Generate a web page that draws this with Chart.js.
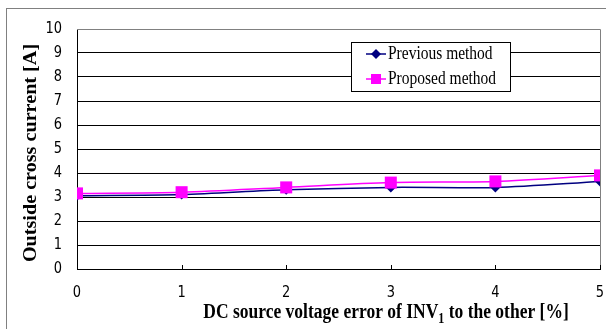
<!DOCTYPE html>
<html>
<head>
<meta charset="utf-8">
<script src="https://cdn.jsdelivr.net/npm/chart.js@4.4.1/dist/chart.umd.min.js"></script>
<style>
  html, body { margin: 0; padding: 0; background: #fff; overflow: hidden; }
  #wrap { position: relative; width: 606px; height: 329px; overflow: hidden; }
  #frame { position: absolute; left: 6px; top: 8px; width: 640px; height: 360px; border: 1px solid #808080; }
  #c { position: absolute; left: 0; top: 0; }
</style>
</head>
<body>
<div id="wrap">
  <div id="frame"></div>
  <canvas id="c" width="606" height="329"></canvas>
</div>
<script>
// dane
const errorPct = [0, 1, 2, 3, 4, 5];
const previousMethod = [3.05, 3.1, 3.3, 3.4, 3.4, 3.65];
const proposedMethod = [3.15, 3.2, 3.4, 3.6, 3.65, 3.9];
const yTicks = [0, 1, 2, 3, 4, 5, 6, 7, 8, 9, 10];

const NAVY = '#000080';
const PINK = '#FF00FF';
const SERIF = '"Liberation Serif", "Times New Roman", serif';
const SANS = '"DejaVu Sans", Verdana, sans-serif';
const STRETCH = 1.15; // oryginal jest lekko rozciagniety w pionie

function pts(vals) { return errorPct.map((x, i) => ({ x, y: vals[i] })); }

function stretchedText(ctx, text, x, y, font, align, baseline) {
  ctx.save();
  ctx.translate(x, y);
  ctx.scale(1, STRETCH);
  ctx.font = font;
  ctx.textAlign = align; ctx.textBaseline = baseline;
  ctx.fillText(text, 0, 0);
  ctx.restore();
}

// tytuly osi, legenda, etykiety osi, ramka obszaru wykresu
const decor = {
  id: 'decor',
  afterDraw(chart) {
    const ctx = chart.ctx, a = chart.chartArea;
    const xs = chart.scales.x, ys = chart.scales.y;
    ctx.save();
    // ramka gorna/prawa (szara)
    ctx.strokeStyle = '#808080'; ctx.lineWidth = 1;
    ctx.beginPath();
    ctx.moveTo(a.left, Math.round(a.top) + 0.5);
    ctx.lineTo(Math.round(a.right) + 0.5, Math.round(a.top) + 0.5);
    ctx.lineTo(Math.round(a.right) + 0.5, a.bottom);
    ctx.stroke();

    // male znaczniki na osi x (do srodka)
    ctx.strokeStyle = '#000';
    errorPct.forEach(v => {
      const px = Math.round(xs.getPixelForValue(v)) + 0.5;
      ctx.beginPath(); ctx.moveTo(px, a.bottom); ctx.lineTo(px, a.bottom - 4); ctx.stroke();
    });

    // etykiety osi
    ctx.fillStyle = '#000';
    yTicks.forEach(v => stretchedText(ctx, String(v), 62, ys.getPixelForValue(v), '13px ' + SANS, 'right', 'middle'));
    errorPct.forEach(v => stretchedText(ctx, String(v), xs.getPixelForValue(v), 293, '13px ' + SANS, 'center', 'middle'));

    // tytul osi y
    ctx.font = 'bold 18px ' + SERIF;
    ctx.textAlign = 'center'; ctx.textBaseline = 'middle';
    ctx.save();
    ctx.translate(31, 153);
    ctx.rotate(-Math.PI / 2);
    ctx.scale(1.12, 1);
    ctx.fillText('Outside cross current [A]', 0, 0);
    ctx.restore();

    // tytul osi x z indeksem dolnym
    const p1 = 'DC source voltage error of INV', sub = '1', p2 = ' to the other [%]';
    ctx.textAlign = 'left'; ctx.textBaseline = 'alphabetic';
    ctx.font = 'bold 17.5px ' + SERIF;
    const w1 = ctx.measureText(p1).width, w3 = ctx.measureText(p2).width;
    ctx.font = 'bold 12px ' + SERIF;
    const w2 = ctx.measureText(sub).width;
    ctx.save();
    ctx.translate(386 - (w1 + w2 + w3) / 2, 318);
    ctx.scale(1, STRETCH);
    ctx.font = 'bold 17.5px ' + SERIF;
    ctx.fillText(p1, 0, 0);
    ctx.font = 'bold 12px ' + SERIF;
    ctx.fillText(sub, w1, 4);
    ctx.font = 'bold 17.5px ' + SERIF;
    ctx.fillText(p2, w1 + w2, 0);
    ctx.restore();

    // legenda
    ctx.fillStyle = '#fff';
    ctx.fillRect(351, 42, 159, 49);
    ctx.strokeStyle = '#000'; ctx.lineWidth = 1;
    ctx.strokeRect(351.5, 42.5, 159, 49);
    const rows = [
      { label: 'Previous method', color: NAVY, y: 54, shape: 'diamond' },
      { label: 'Proposed method', color: PINK, y: 79, shape: 'square' }
    ];
    rows.forEach(r => {
      ctx.strokeStyle = r.color; ctx.lineWidth = 1.5;
      ctx.beginPath(); ctx.moveTo(366, r.y); ctx.lineTo(386, r.y); ctx.stroke();
      ctx.fillStyle = r.color;
      ctx.beginPath();
      if (r.shape === 'diamond') {
        ctx.moveTo(376, r.y - 5); ctx.lineTo(381, r.y); ctx.lineTo(376, r.y + 5); ctx.lineTo(371, r.y);
        ctx.closePath(); ctx.fill();
      } else {
        ctx.fillRect(371, r.y - 5, 10, 10);
      }
      ctx.fillStyle = '#000';
      stretchedText(ctx, r.label, 388, r.y, '15.5px ' + SERIF, 'left', 'middle');
    });
    ctx.restore();
  }
};

new Chart(document.getElementById('c'), {
  type: 'line',
  data: {
    datasets: [
      {
        label: 'Previous method', data: pts(previousMethod),
        borderColor: NAVY, backgroundColor: NAVY, borderWidth: 1.5,
        pointStyle: 'rectRot', pointRadius: 5, pointBorderWidth: 0,
        tension: 0.3, order: 1
      },
      {
        label: 'Proposed method', data: pts(proposedMethod),
        borderColor: PINK, backgroundColor: PINK, borderWidth: 1.5,
        pointStyle: 'rect', pointRadius: 8.5, pointBorderWidth: 0,
        tension: 0.3, order: 0
      }
    ]
  },
  options: {
    responsive: false,
    animation: false,
    layout: { autoPadding: false, padding: { top: 29, right: 6, left: 0, bottom: 0 } },
    plugins: { legend: { display: false }, tooltip: { enabled: false } },
    scales: {
      x: {
        type: 'linear', min: 0, max: 5,
        afterBuildTicks: s => { s.ticks = errorPct.map(v => ({ value: v })); },
        grid: { display: false },
        border: { color: '#000', width: 1 },
        ticks: { display: false },
        afterFit: s => { s.height = 60; s.paddingLeft = 0; s.paddingRight = 0; }
      },
      y: {
        min: 0, max: 10,
        afterBuildTicks: s => { s.ticks = yTicks.map(v => ({ value: v })); },
        grid: { color: c => (c.tick && c.tick.value === 10 ? '#808080' : '#000'), drawTicks: false },
        border: { color: '#000', width: 1 },
        ticks: { display: false },
        afterFit: s => { s.width = 77; s.paddingTop = 0; s.paddingBottom = 0; }
      }
    }
  },
  plugins: [decor]
});
</script>
</body>
</html>
